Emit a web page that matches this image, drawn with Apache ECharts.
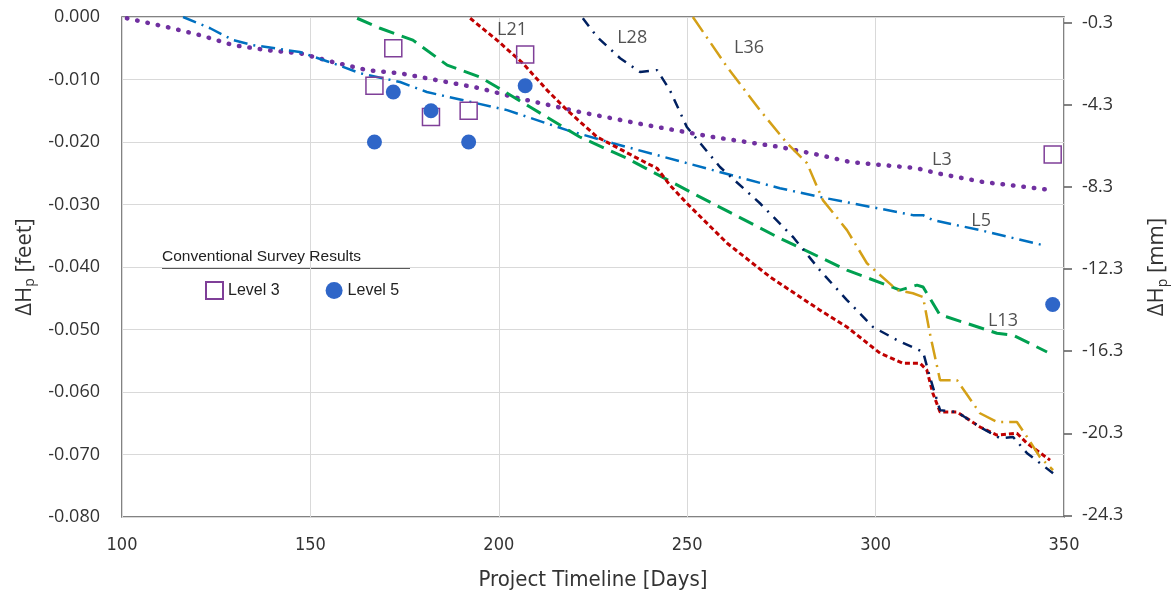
<!DOCTYPE html>
<html>
<head>
<meta charset="utf-8">
<script src="https://cdn.jsdelivr.net/npm/echarts@6/dist/echarts.min.js"></script>
<style>html,body{margin:0;padding:0;background:#fff}#c{width:1175px;height:592px}</style>
</head>
<body>
<div id="c"></div>
<script>
// ---- data ----
const xTicks = [100, 150, 200, 250, 300, 350];
const rightTickValues = [-24.3, -20.3, -16.3, -12.3, -8.3, -4.3, -0.3];
const FT_TO_MM = 304.8;

const level3 = [[167,-0.011],[172,-0.005],[182,-0.016],[192,-0.015],[207,-0.006],[347,-0.022]];
const level5 = [[167,-0.020],[172,-0.012],[182,-0.015],[192,-0.020],[207,-0.011],[347,-0.046]];

const L3 = [[101.3,-0.0002],[111.9,-0.0016],[120.7,-0.0029],[129.5,-0.0045],[138.5,-0.0053],[147.2,-0.0058],[156.0,-0.0072],[165.0,-0.0085],[173.8,-0.0090],[195.0,-0.0114],[203.8,-0.0128],[221.5,-0.0152],[239.3,-0.0173],[256.8,-0.0192],[274.6,-0.0208],[285.2,-0.0221],[293.2,-0.0232],[311.0,-0.0242],[316.3,-0.0250],[328.5,-0.0264],[346.8,-0.0277]];
const L5 = [[116.2,0],[123.4,-0.0018],[129.5,-0.0037],[134.8,-0.0045],[147.2,-0.0056],[156.0,-0.0074],[163.2,-0.0090],[173.8,-0.0104],[180.9,-0.0120],[202.2,-0.0149],[218.1,-0.0181],[230.3,-0.0202],[256.8,-0.0245],[274.6,-0.0274],[285.2,-0.0288],[309.9,-0.0317],[312.6,-0.0317],[315.2,-0.0325],[327.7,-0.0341],[344.4,-0.0365]];
const L13 = [[162.4,-0.0002],[168.5,-0.0018],[177.2,-0.0037],[186.3,-0.0077],[195.0,-0.0096],[199.5,-0.0112],[208.3,-0.0144],[221.5,-0.0192],[234.0,-0.0226],[251.5,-0.0282],[274.6,-0.0354],[292.4,-0.0405],[306.5,-0.0437],[311.0,-0.0429],[312.6,-0.0432],[317.1,-0.0477],[319.0,-0.0480],[332.2,-0.0506],[336.5,-0.0509],[345.5,-0.0536]];
const L21 = [[192.4,-0.0002],[199.5,-0.0037],[206.4,-0.0074],[212.8,-0.0117],[218.1,-0.0149],[226.1,-0.0192],[239.3,-0.0234],[242.0,-0.0242],[245.4,-0.0269],[249.9,-0.0298],[260.6,-0.0362],[272.0,-0.0416],[285.2,-0.0469],[292.4,-0.0496],[301.2,-0.0538],[307.3,-0.0554],[311.8,-0.0554],[313.6,-0.0565],[315.2,-0.0602],[317.1,-0.0632],[321.6,-0.0632],[327.7,-0.0656],[332.2,-0.0669],[337.5,-0.0666],[340.2,-0.0682],[346.3,-0.0709]];
const L28 = [[222.3,-0.0002],[226.1,-0.0032],[232.2,-0.0066],[237.5,-0.0088],[242.0,-0.0085],[245.4,-0.0117],[249.9,-0.0176],[258.7,-0.0240],[269.3,-0.0298],[278.1,-0.0352],[285.2,-0.0405],[292.4,-0.0453],[299.3,-0.0496],[305.7,-0.0517],[312.6,-0.0536],[314.4,-0.0576],[317.1,-0.0629],[321.6,-0.0632],[327.7,-0.0656],[333.0,-0.0674],[336.5,-0.0672],[340.2,-0.0698],[347.1,-0.0730]];
const L36 = [[251.5,0],[260.6,-0.0080],[269.3,-0.0149],[276.5,-0.0202],[281.8,-0.0234],[286.0,-0.0293],[292.4,-0.0341],[297.7,-0.0394],[305.7,-0.0437],[309.9,-0.0442],[312.6,-0.0448],[314.4,-0.0506],[317.1,-0.0581],[321.6,-0.0581],[327.7,-0.0634],[332.2,-0.0648],[337.5,-0.0648],[340.2,-0.0672],[343.6,-0.0704],[347.1,-0.0725]];

const lineLabels = [
  {name:'L21', value:[203.5,-0.0021]},
  {name:'L28', value:[235.4,-0.0034]},
  {name:'L36', value:[266.4,-0.0050]},
  {name:'L3',  value:[317.6,-0.0229]},
  {name:'L5',  value:[328.0,-0.0326]},
  {name:'L13', value:[333.8,-0.0486]}
];

// ---- chart ----
const chart = echarts.init(document.getElementById('c'), null, {renderer:'canvas'});
const axisFont = '"Open Sans", "Liberation Sans", sans-serif';
const narrowFont = '"Liberation Sans Narrow", "DejaVu Sans Condensed", "Open Sans", sans-serif';
function lineSeries(name, data, color, type, width, cap) {
  return {
    name, type:'line', data, symbol:'none', clip:true, z:2,
    lineStyle:{color, width, type, cap: cap || 'butt'}
  };
}
chart.setOption({
  animation:false,
  backgroundColor:'#fff',
  grid:{left:122, right:111, top:17, bottom:75, outerBoundsMode:'none', containLabel:false,
    show:true, borderColor:'#595959', borderWidth:1.5, backgroundColor:'transparent'},
  title:{text:'Conventional Survey Results', left:162, top:249,
    textStyle:{fontFamily:'"Liberation Sans", Arial, sans-serif', fontSize:15.5, fontWeight:'normal', color:'#222'}, padding:0},
  graphic:[{type:'line', shape:{x1:162, y1:268, x2:410, y2:268}, style:{stroke:'#222', lineWidth:1.5}}],
  legend:{data:['Level 3','Level 5'], left:200, top:276, itemGap:46, itemWidth:17, itemHeight:17,
    textStyle:{fontFamily:'"Liberation Sans", Arial, sans-serif', fontSize:16, color:'#222'}},
  xAxis:{type:'value', min:100, max:350, interval:50,
    name:'Project Timeline [Days]', nameLocation:'middle', nameGap:52,
    nameTextStyle:{fontFamily:narrowFont, fontSize:22, color:'#333'},
    axisLine:{show:false}, axisTick:{show:false},
    axisLabel:{fontFamily:narrowFont, fontSize:18, color:'#333', margin:19},
    splitLine:{show:true, lineStyle:{color:'#d9d9d9', width:1}}},
  yAxis:[{type:'value', min:-0.08, max:0, interval:0.01, position:'left',
    name:'ΔH{p|p} [feet]', nameLocation:'middle', nameGap:80, nameRotate:90,
    nameTextStyle:{fontFamily:axisFont, fontSize:22, color:'#333',
      rich:{p:{fontFamily:axisFont, fontSize:14, color:'#333', verticalAlign:'bottom', padding:[12,0,0,0]}}},
    axisLine:{show:false}, axisTick:{show:false},
    axisLabel:{fontFamily:axisFont, fontSize:18, color:'#333', margin:22, formatter:v=>v.toFixed(3)},
    splitLine:{show:true, lineStyle:{color:'#d9d9d9', width:1}}},
   {type:'value', min:-0.08*FT_TO_MM, max:0, position:'right',
    name:'ΔH{p|p} [mm]', nameLocation:'middle', nameGap:80, nameRotate:90,
    nameTextStyle:{fontFamily:axisFont, fontSize:22, color:'#333',
      rich:{p:{fontFamily:axisFont, fontSize:14, color:'#333', verticalAlign:'bottom', padding:[12,0,0,0]}}},
    axisLine:{show:false},
    axisTick:{show:true, inside:false, length:8, customValues:rightTickValues, lineStyle:{color:'#595959', width:1.5}},
    axisLabel:{fontFamily:axisFont, fontSize:18, color:'#333', margin:18, customValues:rightTickValues, formatter:v=>v.toFixed(1)},
    splitLine:{show:false}}],
  series:[
    lineSeries('L3', L3, '#7030A0', [0.5, 10], 4.5, 'round'),
    lineSeries('L5', L5, '#0070C0', [14, 6, 2, 6], 2.5),
    lineSeries('L13', L13, '#00A050', [16, 8], 3),
    lineSeries('L21', L21, '#C00000', [5, 3], 3),
    lineSeries('L28', L28, '#002060', [10, 7, 2, 7], 2.5),
    lineSeries('L36', L36, '#D4A017', [18, 6, 2, 6], 2.5),
    {name:'Level 3', type:'scatter', data:level3, symbol:'rect', symbolSize:17, z:3,
      itemStyle:{color:'rgba(255,255,255,0)', borderColor:'#7F3F98', borderWidth:1.5, opacity:1}},
    {name:'Level 5', type:'scatter', data:level5, symbol:'circle', symbolSize:15, z:3,
      itemStyle:{color:'#2F66C8', opacity:1}},
    {name:'labels', type:'scatter', data:lineLabels, symbolSize:0, z:4, silent:true,
      label:{show:true, position:'inside', formatter:'{b}', fontFamily:axisFont, fontSize:18, color:'#262626'}}
  ]
});
</script>
</body>
</html>
